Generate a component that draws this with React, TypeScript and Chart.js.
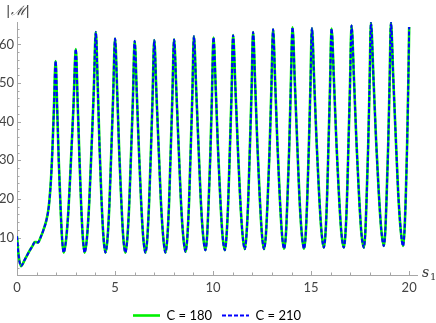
import { useEffect, useRef } from "react";
import { Chart, registerables } from "chart.js";

Chart.register(...registerables);

// s1 values (shared by both series)
const sValues = [
  0, 0.08, 0.2, 0.4, 0.6, 0.8, 0.9, 0.97, 1.07, 1.2, 1.35, 1.5, 1.62, 1.72, 1.8, 1.88, 1.97,
  2.05, 2.13, 2.22, 2.3, 2.38,
  2.5, 2.63, 2.75, 2.88, 3.0,
  3.09, 3.18, 3.27, 3.36, 3.45,
  3.56, 3.68, 3.79, 3.91, 4.02,
  4.12, 4.21, 4.31, 4.41, 4.51,
  4.61, 4.71, 4.8, 4.9, 5.0,
  5.11, 5.21, 5.32, 5.42, 5.53,
  5.62, 5.72, 5.81, 5.91, 6.0,
  6.11, 6.22, 6.33, 6.44, 6.55,
  6.64, 6.73, 6.82, 6.91, 7.0,
  7.11, 7.23, 7.34, 7.46, 7.57,
  7.66, 7.75, 7.83, 7.92, 8.01,
  8.13, 8.25, 8.36, 8.48, 8.6,
  8.68, 8.77, 8.85, 8.94, 9.02,
  9.14, 9.26, 9.37, 9.49, 9.61,
  9.69, 9.77, 9.86, 9.94, 10.02,
  10.14, 10.25, 10.37, 10.48, 10.6,
  10.68, 10.77, 10.85, 10.94, 11.02,
  11.14, 11.26, 11.38, 11.5, 11.62,
  11.7, 11.79, 11.87, 11.96, 12.04,
  12.15, 12.26, 12.38, 12.49, 12.6,
  12.69, 12.78, 12.88, 12.97, 13.06,
  13.17, 13.28, 13.4, 13.51, 13.62,
  13.71, 13.79, 13.88, 13.96, 14.05,
  14.17, 14.29, 14.4, 14.52, 14.64,
  14.72, 14.8, 14.88, 14.96, 15.04,
  15.16, 15.28, 15.41, 15.53, 15.65,
  15.73, 15.81, 15.88, 15.96, 16.04,
  16.17, 16.29, 16.42, 16.54, 16.67,
  16.75, 16.83, 16.9, 16.98, 17.06,
  17.19, 17.31, 17.44, 17.56, 17.69,
  17.76, 17.83, 17.91, 17.98, 18.05,
  18.18, 18.31, 18.45, 18.58, 18.71,
  18.78, 18.85, 18.93, 19.0, 19.07,
  19.19, 19.32, 19.44, 19.57, 19.69,
  19.76, 19.83, 19.9, 19.96, 20.0,
];

// |M| for C = 180
const m180 = [
  10.3, 5.5, 2.6, 4.3, 6.2, 7.9, 8.8, 8.8, 8.7, 10.0, 12.0, 14.5, 18.0, 24.0, 32.0, 43.0, 55.7,
  43.3, 29.9, 18.0, 9.6, 6.1,
  9.3, 17.7, 29.8, 44.0, 58.8,
  45.6, 31.4, 18.7, 9.8, 6.1,
  9.5, 18.7, 31.8, 47.2, 63.2,
  48.9, 33.5, 19.8, 10.1, 6.1,
  9.4, 18.3, 31.0, 46.0, 61.5,
  47.7, 32.7, 19.4, 10.0, 6.1,
  9.4, 18.2, 30.8, 45.6, 60.9,
  47.2, 32.4, 19.3, 9.9, 6.1,
  9.4, 18.2, 30.9, 45.7, 61.1,
  47.4, 32.5, 19.3, 10.0, 6.1,
  9.4, 18.2, 30.9, 45.8, 61.3,
  47.6, 32.7, 19.5, 10.2, 6.3,
  9.6, 18.6, 31.4, 46.5, 62.1,
  48.2, 33.3, 20.0, 10.6, 6.7,
  10.0, 18.8, 31.5, 46.4, 61.8,
  48.0, 33.1, 19.9, 10.6, 6.7,
  10.0, 19.0, 31.8, 46.8, 62.4,
  48.6, 33.6, 20.3, 10.9, 7.0,
  10.4, 19.4, 32.3, 47.5, 63.2,
  49.2, 34.0, 20.5, 10.9, 7.0,
  10.4, 19.5, 32.6, 48.0, 63.9,
  49.7, 34.4, 20.7, 11.1, 7.1,
  10.5, 19.7, 32.9, 48.4, 64.4,
  50.1, 34.6, 20.9, 11.1, 7.1,
  10.5, 19.7, 32.8, 48.2, 64.2,
  50.0, 34.7, 21.0, 11.4, 7.4,
  10.8, 19.9, 32.9, 48.2, 64.1,
  49.9, 34.6, 21.0, 11.4, 7.4,
  10.9, 20.1, 33.3, 48.8, 64.9,
  50.5, 35.0, 21.2, 11.4, 7.4,
  10.9, 20.2, 33.7, 49.4, 65.6,
  51.3, 35.6, 21.7, 11.9, 7.8,
  11.3, 20.6, 33.9, 49.6, 65.6,
  51.3, 35.6, 21.7, 11.9, 7.8,
  11.5, 21.0, 35.0, 51.0, 64.5,
];

// |M| for C = 210 (coincides with C = 180 at this resolution)
const m210 = [
  10.3, 5.5, 2.6, 4.3, 6.2, 7.9, 8.8, 8.8, 8.7, 10.0, 12.0, 14.5, 18.0, 24.0, 32.0, 43.0, 55.7,
  43.3, 29.9, 18.0, 9.6, 6.1,
  9.3, 17.7, 29.8, 44.0, 58.8,
  45.6, 31.4, 18.7, 9.8, 6.1,
  9.5, 18.7, 31.8, 47.2, 63.2,
  48.9, 33.5, 19.8, 10.1, 6.1,
  9.4, 18.3, 31.0, 46.0, 61.5,
  47.7, 32.7, 19.4, 10.0, 6.1,
  9.4, 18.2, 30.8, 45.6, 60.9,
  47.2, 32.4, 19.3, 9.9, 6.1,
  9.4, 18.2, 30.9, 45.7, 61.1,
  47.4, 32.5, 19.3, 10.0, 6.1,
  9.4, 18.2, 30.9, 45.8, 61.3,
  47.6, 32.7, 19.5, 10.2, 6.3,
  9.6, 18.6, 31.4, 46.5, 62.1,
  48.2, 33.3, 20.0, 10.6, 6.7,
  10.0, 18.8, 31.5, 46.4, 61.8,
  48.0, 33.1, 19.9, 10.6, 6.7,
  10.0, 19.0, 31.8, 46.8, 62.4,
  48.6, 33.6, 20.3, 10.9, 7.0,
  10.4, 19.4, 32.3, 47.5, 63.2,
  49.2, 34.0, 20.5, 10.9, 7.0,
  10.4, 19.5, 32.6, 48.0, 63.9,
  49.7, 34.4, 20.7, 11.1, 7.1,
  10.5, 19.7, 32.9, 48.4, 64.4,
  50.1, 34.6, 20.9, 11.1, 7.1,
  10.5, 19.7, 32.8, 48.2, 64.2,
  50.0, 34.7, 21.0, 11.4, 7.4,
  10.8, 19.9, 32.9, 48.2, 64.1,
  49.9, 34.6, 21.0, 11.4, 7.4,
  10.9, 20.1, 33.3, 48.8, 64.9,
  50.5, 35.0, 21.2, 11.4, 7.4,
  10.9, 20.2, 33.7, 49.4, 65.6,
  51.3, 35.6, 21.7, 11.9, 7.8,
  11.3, 20.6, 33.9, 49.6, 65.6,
  51.3, 35.6, 21.7, 11.9, 7.8,
  11.5, 21.0, 35.0, 51.0, 64.5,
];

const seriesLabels = ["C = 180", "C = 210"];
const xTickValues = [0, 5, 10, 15, 20];
const yTickValues = [10, 20, 30, 40, 50, 60];
const xMinorStep = 1;
const yMinorStep = 2;

const AXIS_COLOR = "#a6a6a6";
const TICK_TEXT = "#444444";
const FONT = "Lato";

const axisDecor = {
  id: "axisDecor",
  beforeDatasetsDraw(chart: any) {
    const { ctx, chartArea, scales } = chart;
    const xs = scales.x;
    const ys = scales.y;
    ctx.save();
    ctx.strokeStyle = AXIS_COLOR;
    ctx.lineWidth = 1;
    for (let v = 0; v <= xs.max; v += xMinorStep) {
      const px = Math.round(xs.getPixelForValue(v)) + 0.5;
      const major = xTickValues.includes(v);
      const len = major ? 4 : 2.5;
      ctx.beginPath();
      ctx.moveTo(px, chartArea.bottom);
      ctx.lineTo(px, chartArea.bottom - len);
      ctx.stroke();
    }
    for (let v = yMinorStep; v <= ys.max; v += yMinorStep) {
      if (v < ys.min) continue;
      const py = Math.round(ys.getPixelForValue(v)) + 0.5;
      const major = yTickValues.includes(v);
      const len = major ? 4 : 2.5;
      ctx.beginPath();
      ctx.moveTo(chartArea.left, py);
      ctx.lineTo(chartArea.left + len, py);
      ctx.stroke();
    }
    ctx.restore();
  },
  afterDraw(chart: any) {
    const { ctx, chartArea } = chart;
    ctx.save();
    ctx.fillStyle = "#333333";
    ctx.textBaseline = "middle";
    ctx.textAlign = "center";
    ctx.font = `italic 13px "DejaVu Serif"`;
    ctx.fillText("|ℳ|", chartArea.left + 1, 12);
    ctx.textAlign = "left";
    ctx.font = `italic 14px "DejaVu Serif"`;
    ctx.fillText("s", chartArea.right + 5, chartArea.bottom - 2);
    ctx.font = `10px "DejaVu Serif"`;
    ctx.fillText("1", chartArea.right + 13, chartArea.bottom + 2);
    ctx.restore();
  },
};

export default function App() {
  const canvasRef = useRef<HTMLCanvasElement | null>(null);

  useEffect(() => {
    if (!canvasRef.current) return;
    const d180 = sValues.map((s, i) => ({ x: s, y: m180[i] }));
    const d210 = sValues.map((s, i) => ({ x: s, y: m210[i] }));
    const chart = new Chart(canvasRef.current, {
      type: "line",
      data: {
        datasets: [
          {
            label: seriesLabels[0],
            data: d180,
            borderColor: "#00f000",
            backgroundColor: "#00f000",
            borderWidth: 2.6,
            pointRadius: 0,
            cubicInterpolationMode: "monotone",
            order: 1,
          },
          {
            label: seriesLabels[1],
            data: d210,
            borderColor: "#0000ff",
            backgroundColor: "#0000ff",
            borderWidth: 2,
            borderDash: [4, 2],
            pointRadius: 0,
            cubicInterpolationMode: "monotone",
            order: 0,
          },
        ],
      },
      options: {
        animation: false,
        responsive: true,
        maintainAspectRatio: false,
        layout: { padding: { top: 22, right: 19, left: 0, bottom: 0 } },
        plugins: {
          legend: {
            position: "bottom",
            fullSize: false,
            maxHeight: 24,
            labels: {
              usePointStyle: true,
              pointStyle: "line",
              pointStyleWidth: 27,
              boxHeight: 13,
              padding: 10,
              color: "#222222",
              font: { family: FONT, size: 13 },
              generateLabels: (c: any) =>
                c.data.datasets.map((ds: any, i: number) => ({
                  text: ds.label,
                  datasetIndex: i,
                  strokeStyle: ds.borderColor,
                  fillStyle: ds.borderColor,
                  lineWidth: ds.borderWidth,
                  lineDash: ds.borderDash || [],
                  pointStyle: "line",
                  hidden: false,
                })),
            },
          },
          tooltip: { enabled: false },
        },
        scales: {
          x: {
            type: "linear",
            min: 0,
            max: 20.4,
            afterFit: (scale: any) => {
              scale.height = 24;
            },
            afterBuildTicks: (scale: any) => {
              scale.ticks = xTickValues.map((v) => ({ value: v }));
            },
            grid: { display: false, drawTicks: false },
            border: { display: true, color: AXIS_COLOR, width: 1 },
            ticks: {
              padding: 5,
              maxRotation: 0,
              color: TICK_TEXT,
              font: { family: FONT, size: 13 },
              callback: (v: any) => String(v),
            },
          },
          y: {
            type: "linear",
            min: 0.3,
            max: 65.8,
            afterFit: (scale: any) => {
              scale.width = 17;
            },
            afterBuildTicks: (scale: any) => {
              scale.ticks = yTickValues.map((v) => ({ value: v }));
            },
            grid: { display: false, drawTicks: false },
            border: { display: true, color: AXIS_COLOR, width: 1 },
            ticks: {
              padding: 3,
              color: TICK_TEXT,
              font: { family: FONT, size: 13 },
              callback: (v: any) => String(v),
            },
          },
        },
      },
      plugins: [axisDecor],
    });
    return () => chart.destroy();
  }, []);

  return (
    <div style={{ position: "fixed", left: 0, top: 0, width: 436, height: 323, background: "#fff" }}>
      <canvas ref={canvasRef} />
    </div>
  );
}
